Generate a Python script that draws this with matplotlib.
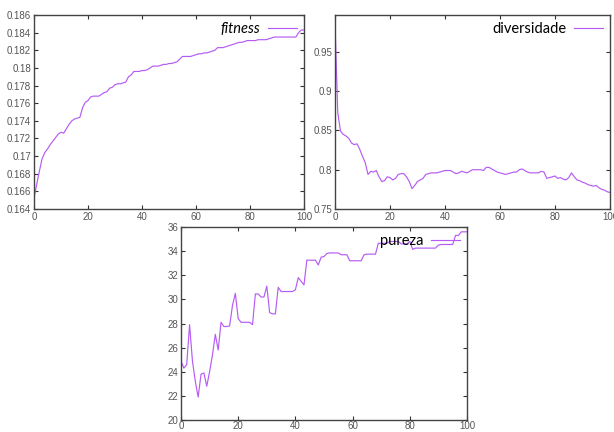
import numpy as np
import matplotlib
matplotlib.use("Agg")
import matplotlib.pyplot as plt

# generations 0..100
geracao = np.arange(101)

fitness = [
    0.1652, 0.1668, 0.1683, 0.1697, 0.1704, 0.1708, 0.1713, 0.1717, 0.1721, 0.1725,
    0.1727, 0.1726, 0.1731, 0.1736, 0.1740, 0.1742, 0.1743, 0.1744, 0.1755, 0.1761,
    0.1763, 0.1767, 0.1768, 0.1768, 0.1768, 0.1770, 0.1772, 0.1773, 0.1777, 0.1778,
    0.1781, 0.1782, 0.1782, 0.1783, 0.1784, 0.1790, 0.1792, 0.1796, 0.1796, 0.1796,
    0.1797, 0.1797, 0.1798, 0.1800, 0.1802, 0.1802, 0.1802, 0.1803, 0.1804, 0.1804,
    0.1805, 0.1805, 0.1806, 0.1807, 0.1810, 0.1813, 0.1813, 0.1813, 0.1813, 0.1814,
    0.1815, 0.1816, 0.1816, 0.1817, 0.1817, 0.1818, 0.1819, 0.1820, 0.1823, 0.1823,
    0.1823, 0.1824, 0.1825, 0.1826, 0.1827, 0.1828, 0.1829, 0.1829, 0.1830, 0.1831,
    0.1831, 0.1831, 0.1831, 0.1832, 0.1832, 0.1832, 0.1832, 0.1833, 0.1834, 0.1835,
    0.1835, 0.1835, 0.1835, 0.1835, 0.1835, 0.1835, 0.1835, 0.1835, 0.1840, 0.1843,
    0.1843,
]

diversidade = [
    0.986, 0.873, 0.849, 0.845, 0.843, 0.840, 0.834, 0.832, 0.833, 0.826,
    0.817, 0.809, 0.794, 0.798, 0.797, 0.799, 0.791, 0.785, 0.786, 0.791,
    0.790, 0.787, 0.789, 0.794, 0.795, 0.795, 0.791, 0.785, 0.776, 0.780,
    0.785, 0.787, 0.789, 0.794, 0.795, 0.796, 0.796, 0.796, 0.797, 0.798,
    0.799, 0.799, 0.799, 0.797, 0.795, 0.796, 0.798, 0.797, 0.796, 0.798,
    0.800, 0.800, 0.800, 0.800, 0.799, 0.803, 0.803, 0.801, 0.799, 0.797,
    0.796, 0.795, 0.794, 0.795, 0.796, 0.797, 0.797, 0.800, 0.801, 0.799,
    0.797, 0.796, 0.796, 0.796, 0.796, 0.798, 0.797, 0.789, 0.790, 0.791,
    0.792, 0.789, 0.790, 0.788, 0.787, 0.790, 0.796, 0.791, 0.787, 0.786,
    0.784, 0.783, 0.781, 0.780, 0.779, 0.780, 0.777, 0.775, 0.774, 0.772,
    0.771,
]

pureza = [
    24.9, 24.3, 24.6, 27.9, 24.9, 23.2, 21.9, 23.8, 23.9, 22.8,
    24.0, 25.4, 27.1, 25.8, 28.1, 27.75, 27.75, 27.8, 29.5, 30.5,
    28.4, 28.1, 28.1, 28.1, 28.1, 27.9, 30.45, 30.45, 30.2, 30.2,
    31.1, 28.9, 28.8, 28.8, 31.0, 30.65, 30.65, 30.65, 30.65, 30.65,
    30.8, 31.8, 31.5, 31.2, 33.25, 33.25, 33.25, 33.25, 32.85, 33.5,
    33.55, 33.8, 33.85, 33.85, 33.85, 33.85, 33.7, 33.7, 33.7, 33.2,
    33.2, 33.2, 33.2, 33.2, 33.7, 33.75, 33.75, 33.75, 33.75, 34.65,
    34.65, 34.65, 34.65, 34.8, 34.8, 34.8, 34.8, 34.6, 34.6, 34.6,
    34.8, 34.15, 34.25, 34.25, 34.25, 34.25, 34.25, 34.25, 34.25, 34.25,
    34.5, 34.55, 34.55, 34.55, 34.55, 34.55, 35.3, 35.3, 35.6, 35.6,
    35.6,
]

LINE = '#b65cf2'
W, H = 614, 432

fig = plt.figure(figsize=(W / 100, H / 100), dpi=100)


def box(l, t, r, b):
    return [l / W, 1 - b / H, (r - l) / W, (b - t) / H]


def style(ax, ylim, yticks, ylabels, xpad=2):
    ax.set_xlim(0, 100)
    ax.set_ylim(*ylim)
    ax.set_xticks(range(0, 101, 20))
    ax.set_yticks(yticks)
    ax.set_yticklabels(ylabels)
    ax.tick_params(direction='in', length=3, width=0.8, top=True, right=True,
                   labelsize=7, labelcolor='#555555', color='#333333', pad=2)
    ax.tick_params(axis='x', pad=xpad)
    for lbl in ax.get_xticklabels() + ax.get_yticklabels():
        lbl.set_family('Liberation Sans')
    for s in ax.spines.values():
        s.set_color('#444444')
        s.set_linewidth(1.0)


def legenda(ax, italic=False):
    ax.legend(loc='upper right', frameon=False, markerfirst=False,
              handlelength=2.0, handletextpad=0.5, borderaxespad=0.1,
              prop={'family': 'Lato', 'size': 10.5,
                    'style': 'italic' if italic else 'normal'})


ax1 = fig.add_axes(box(34, 15, 304, 209))
ax1.plot(geracao, fitness, color=LINE, lw=0.85, label='fitness')
style(ax1, (0.164, 0.186), np.arange(0.164, 0.1861, 0.002),
      ['0.164', '0.166', '0.168', '0.17', '0.172', '0.174', '0.176',
       '0.178', '0.18', '0.182', '0.184', '0.186'])
legenda(ax1, italic=True)

ax2 = fig.add_axes(box(335, 15, 610, 209))
ax2.plot(geracao, diversidade, color=LINE, lw=0.85, label='diversidade')
style(ax2, (0.75, 0.997), [0.75, 0.8, 0.85, 0.9, 0.95],
      ['0.75', '0.8', '0.85', '0.9', '0.95'])
legenda(ax2)

ax3 = fig.add_axes(box(181, 227, 467, 420))
ax3.plot(geracao, pureza, color=LINE, lw=0.85, label='pureza')
style(ax3, (20, 36), range(20, 37, 2), [str(v) for v in range(20, 37, 2)],
      xpad=1)
legenda(ax3)

fig.savefig('out.png', dpi=100)
